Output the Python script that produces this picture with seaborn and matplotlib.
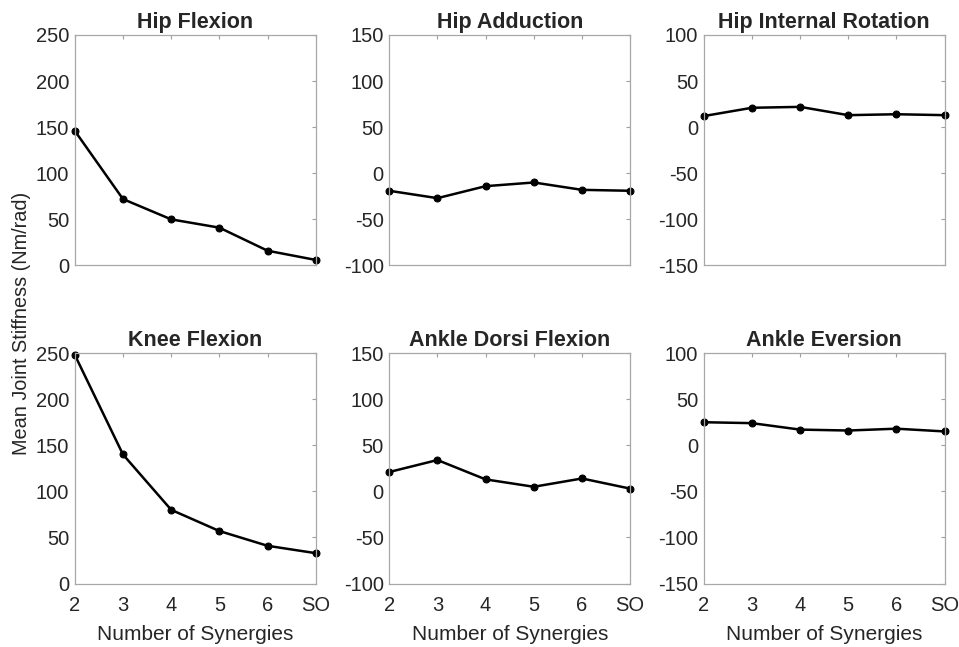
import pandas as pd
import matplotlib
matplotlib.use("Agg")
import matplotlib.pyplot as plt
import seaborn as sns

synergies = ["2", "3", "4", "5", "6", "SO"]

hip_flexion = [146, 72, 50, 41, 16, 6]
hip_adduction = [-19, -27, -14, -10, -18, -19]
hip_int_rotation = [12, 21, 22, 13, 14, 13]
knee_flexion = [248, 140, 80, 57, 41, 33]
ankle_dorsi_flexion = [21, 34, 13, 5, 14, 3]
ankle_eversion = [25, 24, 17, 16, 18, 15]

titles = ["Hip Flexion", "Hip Adduction", "Hip Internal Rotation",
          "Knee Flexion", "Ankle Dorsi Flexion", "Ankle Eversion"]
series = [hip_flexion, hip_adduction, hip_int_rotation,
          knee_flexion, ankle_dorsi_flexion, ankle_eversion]
ylims = [(0, 250), (-100, 150), (-150, 100),
         (0, 250), (-100, 150), (-150, 100)]

sns.set_theme(style="white")
plt.rcParams["font.family"] = ["Liberation Sans", "DejaVu Sans"]
plt.rcParams["axes.unicode_minus"] = False
plt.rcParams["text.color"] = "#262626"
plt.rcParams["xtick.color"] = "#262626"
plt.rcParams["ytick.color"] = "#262626"

fig, axes = plt.subplots(2, 3, figsize=(9.59, 6.47), dpi=100)
fig.subplots_adjust(left=0.078, right=0.985, top=0.946, bottom=0.098,
                    wspace=0.305, hspace=0.38)

for i, (ax, title, vals, yl) in enumerate(zip(axes.flat, titles, series, ylims)):
    df = pd.DataFrame({"pos": range(len(synergies)), "value": vals})
    sns.lineplot(data=df, x="pos", y="value", ax=ax, color="black",
                 linewidth=1.8, marker="o", markersize=5, clip_on=False,
                 markeredgecolor="black", markerfacecolor="black")
    ax.set_xlim(0, len(synergies) - 1)
    ax.set_ylim(*yl)
    ax.set_yticks(range(yl[0], yl[1] + 1, 50))
    ax.set_xticks(range(len(synergies)))
    if i >= 3:
        ax.set_xticklabels(synergies)
        ax.set_xlabel("Number of Synergies", fontsize=15, labelpad=7)
    else:
        ax.set_xticklabels([])
        ax.set_xlabel("")
    ax.set_ylabel("")
    ax.set_title(title, fontsize=15.5, fontweight="bold", pad=5)
    ax.tick_params(axis="both", direction="in", length=3, width=0.8,
                   labelsize=14.5, top=True, right=True, color="#a0a0a0",
                   pad=4)
    ax.tick_params(axis="x", pad=9)
    for sp in ax.spines.values():
        sp.set_color("#a8a8a8")
        sp.set_linewidth(0.9)

fig.text(0.022, 0.50, "Mean Joint Stiffness (Nm/rad)", rotation=90,
         ha="center", va="center", fontsize=14.3)

fig.savefig("out.png", dpi=100)
